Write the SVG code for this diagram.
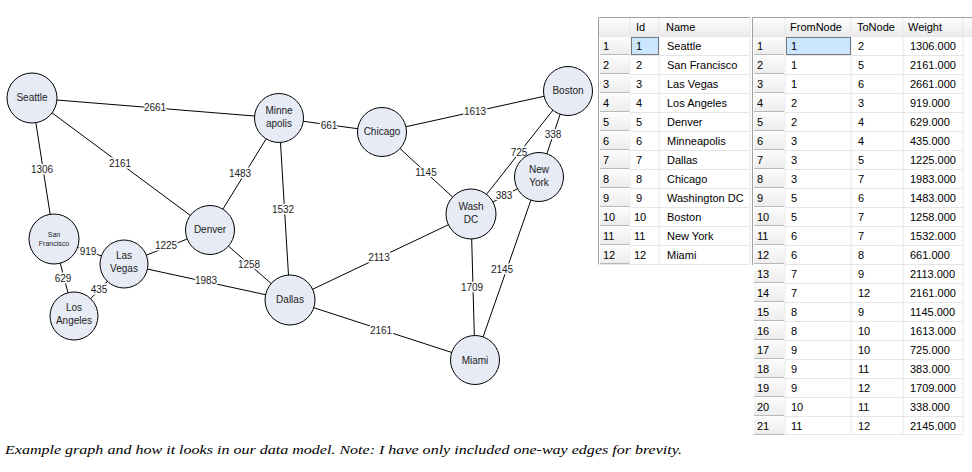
<svg xmlns="http://www.w3.org/2000/svg" width="972" height="472" viewBox="0 0 972 472">
<defs>
<linearGradient id="hdr" x1="0" y1="0" x2="0" y2="1"><stop offset="0" stop-color="#ffffff"/><stop offset="1" stop-color="#ebebeb"/></linearGradient>
<linearGradient id="rh" x1="0" y1="0" x2="0" y2="1"><stop offset="0" stop-color="#fbfbfb"/><stop offset="1" stop-color="#ececec"/></linearGradient>
</defs>
<style>
.edge{stroke:#000;stroke-width:1;fill:none}
.el{font-family:"Liberation Sans",Arial,sans-serif;font-size:10px;fill:#222;text-anchor:middle;stroke:#fff;stroke-width:3;paint-order:stroke;stroke-linejoin:round}
.node circle{fill:#e6ebf5;stroke:#000;stroke-width:1}
.nl{font-family:"Liberation Sans",Arial,sans-serif;font-size:10px;fill:#222;text-anchor:middle}
.sm{font-size:7px}
.t{font-family:"Liberation Sans",Arial,sans-serif;font-size:11px;fill:#000}
.grid{stroke:#e6e6e6;stroke-width:1}
.hdr{fill:url(#hdr)}
.rh{fill:url(#rh)}
.rhl{stroke:#b8b8b8;stroke-width:1}
.frame{stroke:#a0a0a0;stroke-width:1;fill:none}
.sel{fill:#cce6ff;stroke:#000;stroke-width:1;stroke-dasharray:1,1}
.cap{font-family:"Liberation Serif","Times New Roman",serif;font-style:italic;font-size:13px;fill:#000}
</style>
<rect width="972" height="472" fill="#fff"/>
<g id="connectors">
<line class="edge" x1="32" y1="98" x2="279" y2="118"/>
<line class="edge" x1="32" y1="98" x2="54" y2="239"/>
<line class="edge" x1="32" y1="98" x2="210" y2="230"/>
<line class="edge" x1="279" y1="118" x2="210" y2="230"/>
<line class="edge" x1="279" y1="118" x2="290" y2="300"/>
<line class="edge" x1="279" y1="118" x2="382" y2="132"/>
<line class="edge" x1="54" y1="239" x2="124" y2="264"/>
<line class="edge" x1="54" y1="239" x2="74" y2="316"/>
<line class="edge" x1="124" y1="264" x2="74" y2="316"/>
<line class="edge" x1="124" y1="264" x2="210" y2="230"/>
<line class="edge" x1="124" y1="264" x2="290" y2="300"/>
<line class="edge" x1="210" y1="230" x2="290" y2="300"/>
<line class="edge" x1="290" y1="300" x2="471" y2="214"/>
<line class="edge" x1="290" y1="300" x2="475" y2="360"/>
<line class="edge" x1="382" y1="132" x2="471" y2="214"/>
<line class="edge" x1="382" y1="132" x2="568" y2="91"/>
<line class="edge" x1="471" y1="214" x2="568" y2="91"/>
<line class="edge" x1="471" y1="214" x2="539" y2="177"/>
<line class="edge" x1="471" y1="214" x2="475" y2="360"/>
<line class="edge" x1="568" y1="91" x2="539" y2="177"/>
<line class="edge" x1="539" y1="177" x2="475" y2="360"/>
<text class="el" x="155" y="111">2661</text>
<text class="el" x="42" y="173">1306</text>
<text class="el" x="120" y="167">2161</text>
<text class="el" x="240" y="177">1483</text>
<text class="el" x="283" y="213">1532</text>
<text class="el" x="329" y="129">661</text>
<text class="el" x="88" y="255">919</text>
<text class="el" x="63" y="282">629</text>
<text class="el" x="99" y="293">435</text>
<text class="el" x="166" y="249">1225</text>
<text class="el" x="206" y="284">1983</text>
<text class="el" x="249" y="268">1258</text>
<text class="el" x="379" y="261">2113</text>
<text class="el" x="381" y="334">2161</text>
<text class="el" x="426" y="176">1145</text>
<text class="el" x="475" y="115">1613</text>
<text class="el" x="519" y="156">725</text>
<text class="el" x="504" y="199">383</text>
<text class="el" x="472" y="291">1709</text>
<text class="el" x="553" y="138">338</text>
<text class="el" x="502" y="273">2145</text>
</g>
<g id="n1" class="node"><circle cx="32" cy="98" r="25"/><text class="nl" x="32" y="101">Seattle</text></g>
<g id="n2" class="node"><circle cx="54" cy="239" r="25"/><text class="nl sm" x="54" y="237">San</text><text class="nl sm" x="54" y="246">Francisco</text></g>
<g id="n3" class="node"><circle cx="124" cy="264" r="24"/><text class="nl" x="124" y="259">Las</text><text class="nl" x="124" y="272">Vegas</text></g>
<g id="n4" class="node"><circle cx="74" cy="316" r="24"/><text class="nl" x="74" y="311">Los</text><text class="nl" x="74" y="324">Angeles</text></g>
<g id="n5" class="node"><circle cx="210" cy="230" r="24.5"/><text class="nl" x="210" y="233">Denver</text></g>
<g id="n6" class="node"><circle cx="279" cy="118" r="24.5"/><text class="nl" x="279" y="114">Minne</text><text class="nl" x="279" y="127">apolis</text></g>
<g id="n7" class="node"><circle cx="290" cy="300" r="25"/><text class="nl" x="290" y="303">Dallas</text></g>
<g id="n8" class="node"><circle cx="382" cy="132" r="24.5"/><text class="nl" x="382" y="135">Chicago</text></g>
<g id="n9" class="node"><circle cx="471" cy="214" r="25"/><text class="nl" x="471" y="210">Wash</text><text class="nl" x="471" y="223">DC</text></g>
<g id="n10" class="node"><circle cx="568" cy="91" r="24.5"/><text class="nl" x="568" y="94">Boston</text></g>
<g id="n11" class="node"><circle cx="539" cy="177" r="24.5"/><text class="nl" x="539" y="173">New</text><text class="nl" x="539" y="186">York</text></g>
<g id="n12" class="node"><circle cx="475" cy="360" r="24.5"/><text class="nl" x="475" y="364">Miami</text></g>

<g id="nodes-table">
<rect class="hdr" x="598" y="17" width="152" height="19"/>
<line class="grid" x1="630" y1="17" x2="630" y2="264"/>
<line class="grid" x1="659" y1="17" x2="659" y2="264"/>
<line class="grid" x1="750" y1="17" x2="750" y2="264"/>
<g id="t1rows">
<rect class="rh" x="600" y="37" width="30" height="18"/><rect class="rh" x="600" y="56" width="30" height="18"/><rect class="rh" x="600" y="75" width="30" height="18"/><rect class="rh" x="600" y="94" width="30" height="18"/><rect class="rh" x="600" y="113" width="30" height="18"/><rect class="rh" x="600" y="132" width="30" height="18"/><rect class="rh" x="600" y="151" width="30" height="18"/><rect class="rh" x="600" y="170" width="30" height="18"/><rect class="rh" x="600" y="189" width="30" height="18"/><rect class="rh" x="600" y="208" width="30" height="18"/><rect class="rh" x="600" y="227" width="30" height="18"/><rect class="rh" x="600" y="246" width="30" height="18"/>
</g>
<path class="grid" d="M630 55.5H750M630 74.5H750M630 93.5H750M630 112.5H750M630 131.5H750M630 150.5H750M630 169.5H750M630 188.5H750M630 207.5H750M630 226.5H750M630 245.5H750M598 264.5H750M598 36.5H750"/>
<path class="rhl" d="M600 54.5H629M600 73.5H629M600 92.5H629M600 111.5H629M600 130.5H629M600 149.5H629M600 168.5H629M600 187.5H629M600 206.5H629M600 225.5H629M600 244.5H629M600 263.5H629"/>
<rect class="sel" x="631.5" y="37.5" width="27" height="17"/>
<path class="frame" d="M598.5 264V17.5H750"/>
<text class="t" x="636" y="31">Id</text><text class="t" x="666" y="31">Name</text>
<text class="t" x="603" y="50">1</text><text class="t" x="636" y="50">1</text><text class="t" x="667" y="50">Seattle</text>
<text class="t" x="603" y="69">2</text><text class="t" x="636" y="69">2</text><text class="t" x="667" y="69">San Francisco</text>
<text class="t" x="603" y="88">3</text><text class="t" x="636" y="88">3</text><text class="t" x="667" y="88">Las Vegas</text>
<text class="t" x="603" y="107">4</text><text class="t" x="636" y="107">4</text><text class="t" x="667" y="107">Los Angeles</text>
<text class="t" x="603" y="126">5</text><text class="t" x="636" y="126">5</text><text class="t" x="667" y="126">Denver</text>
<text class="t" x="603" y="145">6</text><text class="t" x="636" y="145">6</text><text class="t" x="667" y="145">Minneapolis</text>
<text class="t" x="603" y="164">7</text><text class="t" x="636" y="164">7</text><text class="t" x="667" y="164">Dallas</text>
<text class="t" x="603" y="183">8</text><text class="t" x="636" y="183">8</text><text class="t" x="667" y="183">Chicago</text>
<text class="t" x="603" y="202">9</text><text class="t" x="636" y="202">9</text><text class="t" x="667" y="202">Washington DC</text>
<text class="t" x="603" y="221">10</text><text class="t" x="634" y="221">10</text><text class="t" x="667" y="221">Boston</text>
<text class="t" x="603" y="240">11</text><text class="t" x="634" y="240">11</text><text class="t" x="667" y="240">New York</text>
<text class="t" x="603" y="259">12</text><text class="t" x="634" y="259">12</text><text class="t" x="667" y="259">Miami</text>
</g>

<g id="edges-table">
<rect class="hdr" x="752" y="17" width="220" height="19"/>
<line class="grid" x1="785" y1="17" x2="785" y2="434"/>
<line class="grid" x1="851" y1="17" x2="851" y2="434"/>
<line class="grid" x1="903" y1="17" x2="903" y2="434"/>
<line class="grid" x1="963" y1="17" x2="963" y2="434"/>
<g id="t2rows">
<rect class="rh" x="754" y="37" width="30" height="18"/><rect class="rh" x="754" y="56" width="30" height="18"/><rect class="rh" x="754" y="75" width="30" height="18"/><rect class="rh" x="754" y="94" width="30" height="18"/><rect class="rh" x="754" y="113" width="30" height="18"/><rect class="rh" x="754" y="132" width="30" height="18"/><rect class="rh" x="754" y="151" width="30" height="18"/><rect class="rh" x="754" y="170" width="30" height="18"/><rect class="rh" x="754" y="189" width="30" height="18"/><rect class="rh" x="754" y="208" width="30" height="18"/><rect class="rh" x="754" y="227" width="30" height="18"/><rect class="rh" x="754" y="246" width="30" height="18"/><rect class="rh" x="754" y="265" width="30" height="18"/><rect class="rh" x="754" y="284" width="30" height="18"/><rect class="rh" x="754" y="303" width="30" height="18"/><rect class="rh" x="754" y="322" width="30" height="18"/><rect class="rh" x="754" y="341" width="30" height="18"/><rect class="rh" x="754" y="360" width="30" height="18"/><rect class="rh" x="754" y="379" width="30" height="18"/><rect class="rh" x="754" y="398" width="30" height="18"/><rect class="rh" x="754" y="417" width="30" height="18"/>
</g>
<path class="grid" d="M752 36.5H972M785 55.5H963M785 74.5H963M785 93.5H963M785 112.5H963M785 131.5H963M785 150.5H963M785 169.5H963M785 188.5H963M785 207.5H963M785 226.5H963M785 245.5H963M785 264.5H963M785 283.5H963M785 302.5H963M785 321.5H963M785 340.5H963M785 359.5H963M785 378.5H963M785 397.5H963M785 416.5H963M752 434.5H963"/>
<path class="rhl" d="M754 54.5H784M754 73.5H784M754 92.5H784M754 111.5H784M754 130.5H784M754 149.5H784M754 168.5H784M754 187.5H784M754 206.5H784M754 225.5H784M754 244.5H784M754 263.5H784M754 282.5H784M754 301.5H784M754 320.5H784M754 339.5H784M754 358.5H784M754 377.5H784M754 396.5H784M754 415.5H784M754 434.5H784"/>
<rect class="sel" x="786.5" y="37.5" width="64" height="17"/>
<path class="frame" d="M752.5 265V17.5H972"/>
<text class="t" x="790" y="31">FromNode</text><text class="t" x="857" y="31">ToNode</text><text class="t" x="908" y="31">Weight</text>
<text class="t" x="757" y="50">1</text><text class="t" x="791" y="50">1</text><text class="t" x="858" y="50">2</text><text class="t" x="910" y="50">1306.000</text>
<text class="t" x="757" y="69">2</text><text class="t" x="791" y="69">1</text><text class="t" x="858" y="69">5</text><text class="t" x="910" y="69">2161.000</text>
<text class="t" x="757" y="88">3</text><text class="t" x="791" y="88">1</text><text class="t" x="858" y="88">6</text><text class="t" x="910" y="88">2661.000</text>
<text class="t" x="757" y="107">4</text><text class="t" x="791" y="107">2</text><text class="t" x="858" y="107">3</text><text class="t" x="910" y="107">919.000</text>
<text class="t" x="757" y="126">5</text><text class="t" x="791" y="126">2</text><text class="t" x="858" y="126">4</text><text class="t" x="910" y="126">629.000</text>
<text class="t" x="757" y="145">6</text><text class="t" x="791" y="145">3</text><text class="t" x="858" y="145">4</text><text class="t" x="910" y="145">435.000</text>
<text class="t" x="757" y="164">7</text><text class="t" x="791" y="164">3</text><text class="t" x="858" y="164">5</text><text class="t" x="910" y="164">1225.000</text>
<text class="t" x="757" y="183">8</text><text class="t" x="791" y="183">3</text><text class="t" x="858" y="183">7</text><text class="t" x="910" y="183">1983.000</text>
<text class="t" x="757" y="202">9</text><text class="t" x="791" y="202">5</text><text class="t" x="858" y="202">6</text><text class="t" x="910" y="202">1483.000</text>
<text class="t" x="757" y="221">10</text><text class="t" x="791" y="221">5</text><text class="t" x="858" y="221">7</text><text class="t" x="910" y="221">1258.000</text>
<text class="t" x="757" y="240">11</text><text class="t" x="791" y="240">6</text><text class="t" x="858" y="240">7</text><text class="t" x="910" y="240">1532.000</text>
<text class="t" x="757" y="259">12</text><text class="t" x="791" y="259">6</text><text class="t" x="858" y="259">8</text><text class="t" x="910" y="259">661.000</text>
<text class="t" x="757" y="278">13</text><text class="t" x="791" y="278">7</text><text class="t" x="858" y="278">9</text><text class="t" x="910" y="278">2113.000</text>
<text class="t" x="757" y="297">14</text><text class="t" x="791" y="297">7</text><text class="t" x="858" y="297">12</text><text class="t" x="910" y="297">2161.000</text>
<text class="t" x="757" y="316">15</text><text class="t" x="791" y="316">8</text><text class="t" x="858" y="316">9</text><text class="t" x="910" y="316">1145.000</text>
<text class="t" x="757" y="335">16</text><text class="t" x="791" y="335">8</text><text class="t" x="858" y="335">10</text><text class="t" x="910" y="335">1613.000</text>
<text class="t" x="757" y="354">17</text><text class="t" x="791" y="354">9</text><text class="t" x="858" y="354">10</text><text class="t" x="910" y="354">725.000</text>
<text class="t" x="757" y="373">18</text><text class="t" x="791" y="373">9</text><text class="t" x="858" y="373">11</text><text class="t" x="910" y="373">383.000</text>
<text class="t" x="757" y="392">19</text><text class="t" x="791" y="392">9</text><text class="t" x="858" y="392">12</text><text class="t" x="910" y="392">1709.000</text>
<text class="t" x="757" y="411">20</text><text class="t" x="791" y="411">10</text><text class="t" x="858" y="411">11</text><text class="t" x="910" y="411">338.000</text>
<text class="t" x="757" y="430">21</text><text class="t" x="791" y="430">11</text><text class="t" x="858" y="430">12</text><text class="t" x="910" y="430">2145.000</text>
</g>

<text class="cap" x="5" y="454" textLength="677" lengthAdjust="spacingAndGlyphs">Example graph and how it looks in our data model. Note: I have only included one-way edges for brevity.</text>
</svg>
